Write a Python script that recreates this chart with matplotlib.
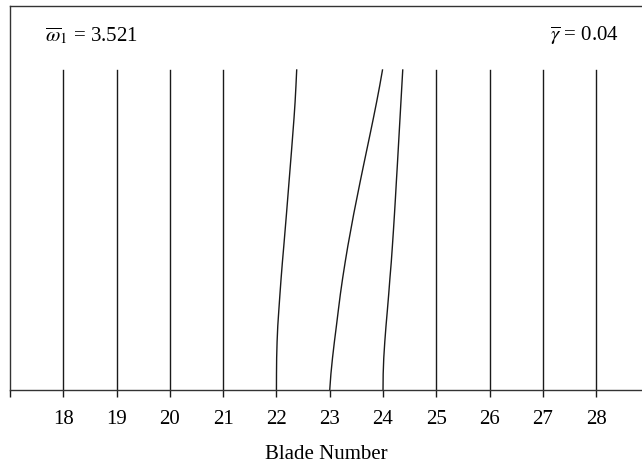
import numpy as np
import matplotlib.pyplot as plt

plt.rcParams['font.family'] = ['Liberation Serif', 'DejaVu Serif']
plt.rcParams['mathtext.fontset'] = 'stix'

# blade numbers and straight (undeformed) lines
blades = [18, 19, 20, 21, 22, 23, 24, 25, 26, 27, 28]
straight = [18, 19, 20, 21, 25, 26, 27, 28]

# height along the blade (0 = root, 1 = tip)
height = [0.0, 0.05, 0.1, 0.15, 0.2, 0.25, 0.3, 0.35, 0.4, 0.45, 0.5,
          0.55, 0.6, 0.65, 0.7, 0.75, 0.8, 0.85, 0.9, 0.95, 1.0]

# lateral displacement (blade units)
disp_22 = [0.0, 0.001, 0.004, 0.012, 0.025, 0.045, 0.066, 0.088, 0.112, 0.138, 0.163,
           0.188, 0.212, 0.236, 0.26, 0.284, 0.307, 0.33, 0.35, 0.366, 0.38]
disp_23 = [0.0, 0.022, 0.052, 0.087, 0.125, 0.162, 0.2, 0.243, 0.29, 0.34, 0.395,
           0.45, 0.51, 0.57, 0.632, 0.695, 0.758, 0.82, 0.88, 0.937, 0.99]
disp_24 = [0.0, 0.003, 0.014, 0.033, 0.056, 0.082, 0.107, 0.13, 0.155, 0.176, 0.196,
           0.215, 0.233, 0.25, 0.268, 0.285, 0.302, 0.319, 0.336, 0.353, 0.37]

fig = plt.figure(figsize=(6.42, 4.64), dpi=100)
ax = fig.add_axes([10 / 642, 73 / 464, 1 - 10 / 642, 384 / 464])

lc = '#1a1a1a'
for b in straight:
    ax.plot([b, b], [0, 1], color=lc, lw=1.0)

for base, d in [(22, disp_22), (23, disp_23), (24, disp_24)]:
    ax.plot(base + np.array(d), height, color=lc, lw=1.0)

ax.set_xlim(17, 28.86)
ax.set_ylim(0, 1.2)
ax.set_xticks(range(17, 29))
ax.set_xticklabels([''] + [str(b) for b in blades])
ax.set_yticks([])
ax.tick_params(axis='x', direction='out', length=5, width=1.0, pad=9,
               labelsize=15, color=lc)
ax.spines['right'].set_visible(False)
for s in ['top', 'left', 'bottom']:
    ax.spines[s].set_linewidth(1.0)
    ax.spines[s].set_color('#333333')

ax.set_xlabel('Blade Number', fontsize=15, labelpad=11)

ax.text(0.055, 0.925, r'$\overline{\omega}_1$ = 3.521', transform=ax.transAxes,
        fontsize=15, ha='left', va='center')
ax.text(0.963, 0.925, r'$\overline{\gamma}$ = 0.04', transform=ax.transAxes,
        fontsize=15, ha='right', va='center')

fig.savefig('out.png', dpi=100)
